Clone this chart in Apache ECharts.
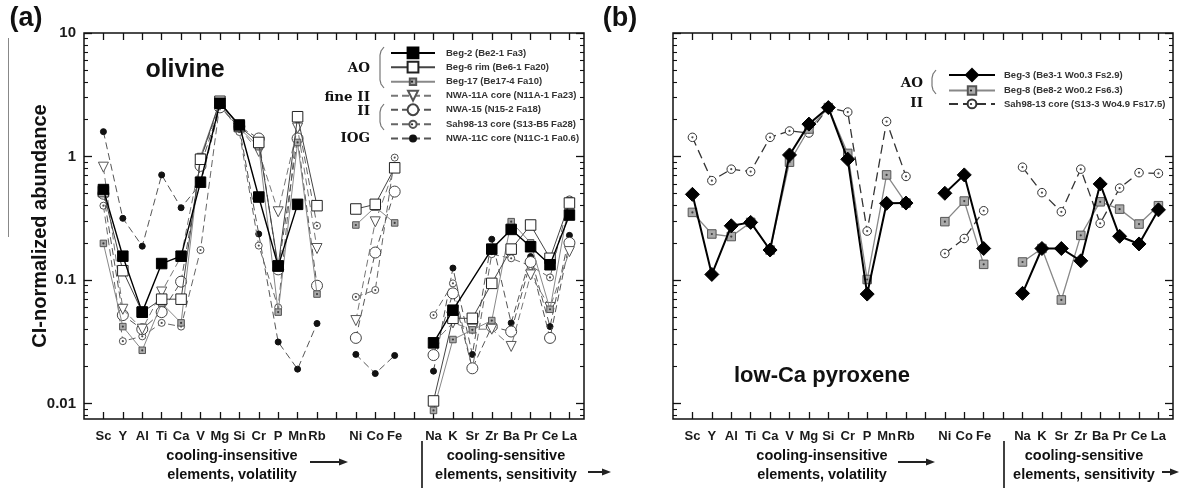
<!DOCTYPE html>
<html><head><meta charset="utf-8">
<script src="https://cdn.jsdelivr.net/npm/echarts@6/dist/echarts.min.js"></script>
<style>html,body{margin:0;padding:0;background:#fff}#c{width:1179px;height:488px}</style>
</head><body><div id="c"></div>
<script>
// ---------- categories ----------
const elementGroups = [
  ['Sc','Y','Al','Ti','Ca','V','Mg','Si','Cr','P','Mn','Rb'],
  ['Ni','Co','Fe'],
  ['Na','K','Sr','Zr','Ba','Pr','Ce','La']
];
const yLabelValues = [0.01, 0.1, 1, 10];
const yMinorValues = [0.008,0.009,0.02,0.03,0.04,0.05,0.06,0.07,0.08,0.09,0.2,0.3,0.4,0.5,0.6,0.7,0.8,0.9,2,3,4,5,6,7,8,9];

// ---------- (a) olivine : Sc Y Al Ti Ca V Mg Si Cr P Mn Rb | Ni Co Fe | Na K Sr Zr Ba Pr Ce La ----------
const beg2Ol   = [0.54,0.156,0.055,0.136,0.156,0.62,2.7,1.8,0.47,0.13,0.41,null, null,null,null, 0.031,0.057,null,0.178,0.257,0.186,0.133,0.336];
const beg6Ol   = [0.52,0.119,0.055,0.07,0.07,0.95,2.8,1.75,1.3,0.13,2.1,0.40, 0.376,0.41,0.81, 0.0105,0.049,0.049,0.094,0.178,0.279,0.15,0.42];
const beg17Ol  = [0.198,0.042,0.027,0.065,0.045,1.0,2.8,1.7,1.2,0.055,1.3,0.077, 0.279,0.39,0.29, 0.0088,0.033,0.0395,0.047,0.297,0.2,0.058,0.44];
const nwa11aOl = [0.82,0.058,0.04,0.08,0.155,0.95,2.6,1.7,1.1,0.357,1.7,0.18, 0.047,0.296,0.81, 0.031,0.045,0.04,0.04,0.029,0.11,0.06,0.17];
const nwa15Ol  = [0.50,0.052,0.04,0.055,0.097,0.84,2.5,1.75,1.4,0.122,1.4,0.09, 0.034,0.167,0.52, 0.0247,0.078,0.0193,0.042,0.0383,0.14,0.034,0.2];
const sahOl    = [0.40,0.032,0.035,0.045,0.042,0.175,2.7,1.58,0.19,0.06,2.0,0.275, 0.073,0.083,0.98, 0.052,0.094,0.019,0.162,0.15,0.13,0.105,0.45];
const nwa11cOl = [1.59,0.316,0.188,0.71,0.385,0.6,2.54,1.7,0.236,0.0315,0.019,0.0445, 0.025,0.0175,0.0245, 0.0183,0.125,0.025,0.214,0.045,0.155,0.042,0.23];

// ---------- (b) low-Ca pyroxene ----------
const beg3Px = [0.494,0.111,0.275,0.293,0.175,1.03,1.83,2.49,0.95,0.077,0.418,0.42, 0.504,0.71,0.18, 0.078,0.18,0.18,0.143,0.6,0.226,0.196,0.37];
const beg8Px = [0.353,0.236,0.225,0.293,0.175,0.9,1.67,2.49,1.06,0.101,0.71,0.42, 0.297,0.436,0.134, 0.14,0.18,0.069,0.23,0.43,0.375,0.284,0.4];
const sahPx  = [1.43,0.638,0.79,0.755,1.43,1.61,1.55,2.49,2.29,0.249,1.92,0.69, 0.164,0.217,0.364, 0.82,0.51,0.357,0.79,0.288,0.555,0.74,0.73];

// ---------- helpers ----------
const positions = [], names = [], gapPositions = [];
(function(){ let p = 0; elementGroups.forEach((g, gi) => { if (gi > 0) { p += 1; gapPositions.push(p); } g.forEach(e => { p += 1; positions.push(p); names.push(e); }); }); })();
const tickPositions = []; for (let i = 1; i <= positions[positions.length-1]; i++) tickPositions.push(i);
// missing values inside a group are skipped (line joins neighbours); groups are separated by a break
function toData(vals) {
  const out = []; let k = 0;
  elementGroups.forEach((g, gi) => {
    if (gi > 0) out.push([gapPositions[gi-1], null]);
    g.forEach(() => { if (vals[k] != null) out.push([positions[k], vals[k]]); k++; });
  });
  return out;
}
const XMIN = 0, XMAX = 25.75, YMIN = 0.0075, YMAX = 10;
const FONT = 'Liberation Sans, Arial, sans-serif';
const SERIF = 'DejaVu Serif, serif';

const grids = [
  { left: 84, top: 33, width: 500, height: 386 },
  { left: 673, top: 33, width: 500, height: 386 }
];
const xAxes = [], yAxes = [];
grids.forEach((g, gi) => {
  xAxes.push({ type: 'value', gridIndex: gi, position: 'bottom', min: XMIN, max: XMAX,
    axisLine: { show: false }, splitLine: { show: false },
    axisTick: { show: true, inside: true, length: 7, customValues: tickPositions, lineStyle: { color: '#111', width: 1.3 } },
    axisLabel: { show: true, customValues: positions, margin: 11, color: '#1a1a1a', fontFamily: FONT, fontWeight: 'bold', fontSize: 13,
      formatter: v => names[positions.indexOf(Math.round(v))] || '' } });
  xAxes.push({ type: 'value', gridIndex: gi, position: 'top', min: XMIN, max: XMAX,
    axisLine: { show: false }, splitLine: { show: false }, axisLabel: { show: false },
    axisTick: { show: true, inside: true, length: 7, customValues: tickPositions, lineStyle: { color: '#111', width: 1.3 } } });
  ['left', 'right'].forEach(side => {
    yAxes.push({ type: 'log', logBase: 10, gridIndex: gi, position: side, min: YMIN, max: YMAX,
      axisLine: { show: false }, splitLine: { show: false },
      axisTick: { show: true, inside: true, length: 8, customValues: yLabelValues, lineStyle: { color: '#111', width: 1.3 } },
      axisLabel: { show: gi === 0 && side === 'left', customValues: yLabelValues, margin: 8, color: '#1a1a1a', fontFamily: FONT, fontWeight: 'bold', fontSize: 15,
        formatter: v => String(+v.toPrecision(3)) } });
    yAxes.push({ type: 'log', logBase: 10, gridIndex: gi, position: side, min: YMIN, max: YMAX,
      axisLine: { show: false }, splitLine: { show: false }, axisLabel: { show: false },
      axisTick: { show: true, inside: true, length: 4, customValues: yMinorValues, lineStyle: { color: '#111', width: 1.1 } } });
  });
});

function line(name, vals, gi, o) {
  return {
    type: 'line', name, data: toData(vals), xAxisIndex: gi * 2, yAxisIndex: gi * 4,
    symbol: o.symbol, symbolSize: o.size, symbolRotate: o.rotate || 0, showAllSymbol: true,
    connectNulls: false, z: o.z || 2, silent: true, animation: false,
    lineStyle: { color: o.lineColor, width: o.lineWidth || 1, type: o.dash || 'solid' },
    itemStyle: { color: o.fill, borderColor: o.border, borderWidth: o.borderWidth || 1, opacity: 1 },
    emphasis: { disabled: true }
  };
}
function dots(vals, gi, z) {
  return { type: 'scatter', data: toData(vals), xAxisIndex: gi * 2, yAxisIndex: gi * 4, symbol: 'circle', symbolSize: 2.2,
    itemStyle: { color: '#222' }, z: z, silent: true, animation: false, emphasis: { disabled: true } };
}
const DASH = [7, 4];
const NAMES_A = ['Beg-2 (Be2-1 Fa3)','Beg-6 rim (Be6-1 Fa20)','Beg-17 (Be17-4 Fa10)','NWA-11A core (N11A-1 Fa23)','NWA-15 (N15-2 Fa18)','Sah98-13 core (S13-B5 Fa28)','NWA-11C core (N11C-1 Fa0.6)'];
const NAMES_B = ['Beg-3 (Be3-1 Wo0.3 Fs2.9)','Beg-8 (Be8-2 Wo0.2 Fs6.3)','Sah98-13 core (S13-3 Wo4.9 Fs17.5)'];

const series = [
  line(NAMES_A[6], nwa11cOl, 0, { symbol: 'circle', size: 6, fill: '#111', border: '#111', lineColor: '#555', dash: DASH, z: 2 }),
  line(NAMES_A[5], sahOl, 0, { symbol: 'circle', size: 7, fill: '#fff', border: '#555', lineColor: '#666', dash: DASH, z: 3 }),
  dots(sahOl, 0, 3.1),
  line(NAMES_A[4], nwa15Ol, 0, { symbol: 'circle', size: 11, fill: '#fff', border: '#444', lineColor: '#555', dash: DASH, z: 4 }),
  line(NAMES_A[3], nwa11aOl, 0, { symbol: 'triangle', rotate: 180, size: 10, fill: '#fff', border: '#555', lineColor: '#777', dash: DASH, z: 5 }),
  line(NAMES_A[2], beg17Ol, 0, { symbol: 'rect', size: 6.5, fill: '#aaa', border: '#555', lineColor: '#888', z: 6 }),
  dots(beg17Ol, 0, 6.1),
  line(NAMES_A[1], beg6Ol, 0, { symbol: 'rect', size: 10.5, fill: '#fff', border: '#222', lineColor: '#444', z: 7 }),
  line(NAMES_A[0], beg2Ol, 0, { symbol: 'rect', size: 10.5, fill: '#000', border: '#000', lineColor: '#000', lineWidth: 1.4, z: 8 }),

  line(NAMES_B[2], sahPx, 1, { symbol: 'circle', size: 8.5, fill: '#fff', border: '#333', lineColor: '#333', lineWidth: 1.3, dash: [9, 5], z: 3 }),
  dots(sahPx, 1, 3.1),
  line(NAMES_B[1], beg8Px, 1, { symbol: 'rect', size: 8.5, fill: '#aaa', border: '#555', lineColor: '#888', lineWidth: 1.3, z: 4 }),
  dots(beg8Px, 1, 4.1),
  line(NAMES_B[0], beg3Px, 1, { symbol: 'diamond', size: 14, fill: '#000', border: '#000', lineColor: '#000', lineWidth: 2, z: 5 })
];

// one legend per entry so each legend symbol keeps its own size
const legendText = { fontFamily: FONT, fontWeight: 'bold', fontSize: 9.5, lineHeight: 10, color: '#333' };
const legendRowsA = [53.3, 67.5, 81.7, 95.9, 110.1, 124.3, 138.5];
const legendSymA = [13.5, 13.5, 8, 12.5, 13.5, 9, 7.5];
const legendRowsB = [75.5, 90.5, 104];
const legendSymB = [15, 10.5, 11];
const legends = [];
const legendDots = [];
NAMES_A.forEach((n, i) => {
  const ih = legendSymA[i], h = Math.max(ih, 10);
  legends.push({ data: [n], orient: 'vertical', left: 390, top: legendRowsA[i] - h / 2, padding: 0, itemWidth: 44, itemHeight: ih, selectedMode: false,
    textStyle: Object.assign({ padding: [0, 0, 0, 6] }, legendText) });
});
NAMES_B.forEach((n, i) => {
  const ih = legendSymB[i], h = Math.max(ih, 10);
  legends.push({ data: [n], orient: 'vertical', left: 948, top: legendRowsB[i] - h / 2, padding: 0, itemWidth: 46, itemHeight: ih, selectedMode: false,
    textStyle: Object.assign({ padding: [0, 0, 0, 4] }, legendText) });
});
[[412, legendRowsA[2]], [412, legendRowsA[5]], [971, legendRowsB[1]], [971, legendRowsB[2]]].forEach(p =>
  legendDots.push({ type: 'circle', silent: true, z: 100, shape: { cx: p[0], cy: p[1], r: 1.1 }, style: { fill: '#222' } }));

function txt(x, y, text, size, opts) {
  return Object.assign({ type: 'text', x, y, silent: true, style: Object.assign({ text, fill: '#111', font: 'bold ' + size + 'px ' + FONT, textAlign: 'center', textVerticalAlign: 'middle' }, (opts && opts.style) || {}) }, opts && opts.el || {});
}
function arrow(x1, x2, y) {
  return [
    { type: 'line', silent: true, shape: { x1, y1: y, x2: x2 - 6, y2: y }, style: { stroke: '#222', lineWidth: 2 } },
    { type: 'polygon', silent: true, shape: { points: [[x2, y], [x2 - 9, y - 3.5], [x2 - 9, y + 3.5]] }, style: { fill: '#222' } }
  ];
}
function bracket(x, y1, y2) {
  return { type: 'polyline', silent: true, shape: { points: [[x + 4, y1], [x + 1, y1 + 4], [x, y1 + 8], [x, y2 - 8], [x + 1, y2 - 4], [x + 4, y2]] }, style: { stroke: '#777', lineWidth: 1.2, fill: null } };
}
const graphics = [
  { type: 'line', silent: true, shape: { x1: 8.5, y1: 38, x2: 8.5, y2: 237 }, style: { stroke: '#888', lineWidth: 1 } },
  txt(26, 19, '(a)', 27),
  txt(620, 19, '(b)', 27),
  txt(40, 226, 'CI-normalized abundance', 20, { el: { rotation: Math.PI / 2 } }),
  txt(185, 70, 'olivine', 25),
  txt(822, 376, 'low-Ca pyroxene', 22),
  txt(370, 68, 'AO', 13.5, { style: { textAlign: 'right', font: 'bold 13.5px ' + SERIF } }),
  txt(370, 97, 'fine II', 13.5, { style: { textAlign: 'right', font: 'bold 13.5px ' + SERIF } }),
  txt(370, 111, 'II', 13.5, { style: { textAlign: 'right', font: 'bold 13.5px ' + SERIF } }),
  txt(370, 138, 'IOG', 13.5, { style: { textAlign: 'right', font: 'bold 13.5px ' + SERIF } }),
  bracket(380, 47, 88),
  bracket(380, 104, 130),
  txt(923, 83, 'AO', 13.5, { style: { textAlign: 'right', font: 'bold 13.5px ' + SERIF } }),
  txt(923, 103, 'II', 13.5, { style: { textAlign: 'right', font: 'bold 13.5px ' + SERIF } }),
  bracket(932, 70, 94)
].concat(legendDots);
// bottom annotations per panel: [insensitive centre, arrow1 start, arrow1 end, separator, sensitive centre, arrow2 start, arrow2 end]
const notes = [[232, 310, 348, 422, 506, 588, 611], [822, 898, 935, 1004, 1084, 1162, 1179]];
notes.forEach(n => {
  graphics.push(txt(n[0], 456, 'cooling-insensitive', 14.5));
  graphics.push(txt(n[0], 475, 'elements, volatility', 14.5));
  graphics.push(...arrow(n[1], n[2], 462));
  graphics.push({ type: 'line', silent: true, shape: { x1: n[3], y1: 441, x2: n[3], y2: 488 }, style: { stroke: '#111', lineWidth: 1.6 } });
  graphics.push(txt(n[4], 456, 'cooling-sensitive', 14.5));
  graphics.push(txt(n[4], 475, 'elements, sensitivity', 14.5));
  graphics.push(...arrow(n[5], n[6], 472));
});

const chart = echarts.init(document.getElementById('c'), null, { renderer: 'canvas' });
chart.setOption({
  animation: false,
  backgroundColor: '#fff',
  grid: grids.map(g => Object.assign({ show: true, borderColor: '#111', borderWidth: 1.5, backgroundColor: 'transparent', containLabel: false }, g)),
  xAxis: xAxes,
  yAxis: yAxes,
  legend: legends,
  series: series,
  graphic: graphics
});
</script></body></html>
